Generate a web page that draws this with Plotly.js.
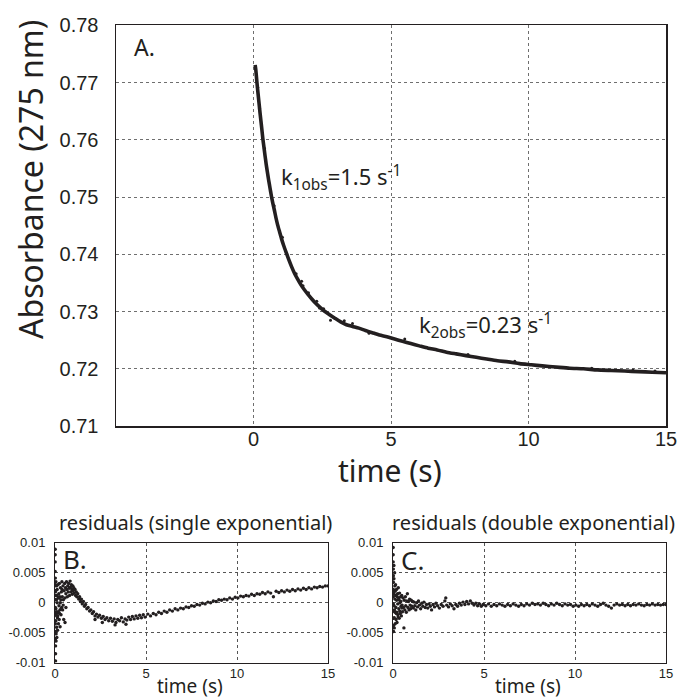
<!DOCTYPE html>
<html>
<head>
<meta charset="utf-8">
<script src="https://cdn.plot.ly/plotly-3.0.1.min.js"></script>
<style>html,body{margin:0;padding:0;background:#fff;}#chart{width:678px;height:699px;}</style>
</head>
<body>
<div id="chart"></div>
<script>
// Panel A: absorbance trace
const absTime = [0.06,0.08,0.10,0.12,0.15,0.18,0.21,0.24,0.27,0.30,0.34,0.38,0.42,0.46,0.50,0.55,0.60,0.65,0.70,0.76,0.82,0.88,0.95,1.02,1.10,1.19,1.28,1.38,1.49,1.60,1.72,1.85,1.98,2.12,2.27,2.43,2.60,2.78,2.97,3.17,3.38,3.60,3.83,4.07,4.32,4.58,4.85,5.13,5.42,5.72,6.03,6.35,6.68,7.02,7.37,7.73,8.10,8.48,8.87,9.27,9.68,10.1,10.5,11.0,11.5,12.0,12.5,13.0,13.5,14.0,14.5,15.0];
const absValue = [0.7731,0.7724,0.7714,0.7703,0.7688,0.7674,0.7660,0.7646,0.7633,0.7620,0.7602,0.7587,0.7572,0.7558,0.7545,0.7530,0.7516,0.7502,0.7490,0.7477,0.7463,0.7451,0.7439,0.7427,0.7415,0.7403,0.7391,0.7379,0.7367,0.7357,0.7347,0.7338,0.7330,0.7322,0.7314,0.7307,0.7300,0.7294,0.7288,0.7282,0.7277,0.7274,0.7271,0.7267,0.7263,0.7259,0.7256,0.7252,0.7248,0.7244,0.7240,0.7236,0.7233,0.7229,0.7226,0.7223,0.7220,0.7217,0.7214,0.7212,0.7209,0.7207,0.7205,0.7203,0.7201,0.7200,0.7198,0.7197,0.7196,0.7195,0.7194,0.7193];
const absStrayTime = [0.15,0.22,0.40,0.75,1.05,1.55,1.75,1.80,2.00,2.30,2.40,2.55,2.80,3.30,3.60,4.20,5.50,7.80,9.50,12.3,13.8,14.6];
const absStrayValue = [0.7692,0.7655,0.7585,0.7485,0.7430,0.7366,0.7353,0.7345,0.7333,0.7318,0.7306,0.7305,0.7285,0.7284,0.7279,0.7262,0.7252,0.7225,0.7213,0.7201,0.7198,0.7196];

// Panel B: residuals (single exponential)
const resBTime = [0.01,0.01,0.01,0.01,0.02,0.02,0.02,0.02,0.02,0.02,0.02,0.02,0.03,0.03,0.03,0.03,
0.05,0.05,0.05,0.05,0.06,0.06,0.08,0.08,0.09,0.09,0.10,0.12,0.12,0.13,0.14,
0.16,0.17,0.18,0.19,0.21,0.22,0.23,0.24,0.26,0.27,0.28,0.30,
0.32,0.33,0.35,0.37,0.38,0.40,0.42,0.44,0.46,0.48,
0.50,0.53,0.55,0.58,0.60,0.63,0.65,0.68,0.70,0.73,
0.75,0.78,0.80,0.83,0.85,0.88,0.90,0.93,0.95,0.98,
1.00,1.03,1.06,1.10,1.13,1.17,1.20,1.25,1.30,1.35,
1.40,1.45,1.50,1.56,1.62,1.68,1.75,1.82,1.90,1.97,
2.05,2.12,2.20,2.28,2.36,2.45,2.55,2.65,2.75,2.85,
2.95,3.05,3.15,3.25,3.35,3.45,3.55,3.65,3.75,3.85,
3.95,4.05,4.15,4.25,4.35,4.45,4.55,4.65,4.75,4.85,
4.95,5.10,5.25,5.40,5.55,5.70,5.85,6.00,6.15,6.30,
6.45,6.60,6.75,6.90,7.05,7.20,7.35,7.50,7.65,7.80,
7.95,8.10,8.25,8.40,8.55,8.70,8.85,9.00,9.15,9.30,
9.45,9.60,9.75,9.90,10.05,10.20,10.35,10.50,10.65,10.80,
10.95,11.10,11.25,11.40,11.55,11.70,11.85,12.00,12.15,12.30,
12.45,12.60,12.75,12.90,13.05,13.20,13.35,13.50,13.65,13.80,
13.95,14.10,14.25,14.40,14.55,14.70,14.85,15.00,
2.60,3.30,3.90,2.20,0.55,0.60,0.04,0.07,0.11,0.15,0.20,0.25,0.29,0.34,0.39,0.45];
const resBValue = [0.0089,0.0080,0.0068,0.0052,0.0041,0.0030,0.0018,0.0005,-0.0008,-0.0021,-0.0035,-0.0048,-0.0060,-0.0072,-0.0085,-0.0097,
0.0035,0.0012,-0.0010,-0.0030,-0.0052,-0.0064,0.0028,0.0005,-0.0018,-0.0041,-0.0058,0.0022,0.0000,-0.0025,-0.0046,
0.0030,0.0008,-0.0015,-0.0035,0.0015,-0.0005,-0.0028,0.0032,0.0010,-0.0012,-0.0040,0.0025,
0.0005,-0.0020,0.0018,-0.0008,0.0035,0.0010,-0.0012,0.0028,0.0005,-0.0028,
0.0020,0.0032,0.0008,0.0025,0.0015,0.0035,0.0022,0.0010,0.0028,0.0018,
0.0032,0.0024,0.0012,0.0036,0.0026,0.0018,0.0030,0.0022,0.0014,0.0028,
0.0020,0.0025,0.0016,0.0022,0.0012,0.0018,0.0010,0.0015,0.0006,0.0010,
0.0002,0.0006,-0.0002,0.0002,-0.0006,-0.0003,-0.0010,-0.0008,-0.0014,-0.0012,
-0.0018,-0.0015,-0.0022,-0.0019,-0.0024,-0.0021,-0.0026,-0.0023,-0.0028,-0.0025,
-0.0030,-0.0026,-0.0031,-0.0027,-0.0033,-0.0028,-0.0030,-0.0025,-0.0032,-0.0027,
-0.0029,-0.0024,-0.0028,-0.0023,-0.0027,-0.0022,-0.0026,-0.0021,-0.0025,-0.0020,
-0.0024,-0.0019,-0.0022,-0.0018,-0.0020,-0.0016,-0.0018,-0.0014,-0.0016,-0.0012,
-0.0014,-0.0010,-0.0012,-0.0009,-0.0010,-0.0007,-0.0008,-0.0005,-0.0006,-0.0003,
-0.0004,-0.0001,-0.0002,0.0001,0.0000,0.0003,0.0002,0.0005,0.0004,0.0006,
0.0005,0.0008,0.0006,0.0009,0.0008,0.0011,0.0010,0.0012,0.0011,0.0014,
0.0012,0.0015,0.0014,0.0017,0.0015,0.0018,0.0016,0.0010,0.0019,0.0017,
0.0020,0.0018,0.0021,0.0019,0.0022,0.0020,0.0023,0.0021,0.0024,0.0022,
0.0025,0.0023,0.0026,0.0025,0.0027,0.0026,0.0028,0.0028,
-0.0033,-0.0037,-0.0036,-0.0028,-0.0033,-0.0008,0.0020,-0.0015,0.0012,-0.0022,0.0008,-0.0018,0.0000,-0.0010,0.0022,-0.0004];

// Panel C: residuals (double exponential)
const resCTime = [0.01,0.01,0.01,0.02,0.02,0.02,0.02,0.02,0.02,0.03,0.03,0.03,0.03,
0.05,0.05,0.06,0.06,0.07,0.07,0.09,0.10,0.10,0.11,0.12,
0.14,0.15,0.16,0.17,0.19,0.20,0.21,0.22,0.25,0.26,0.27,0.29,
0.31,0.32,0.34,0.36,0.38,0.40,0.42,0.44,0.46,0.48,0.50,0.52,
0.55,0.58,0.60,0.62,0.65,0.68,0.70,0.73,0.76,0.79,
0.82,0.85,0.88,0.91,0.94,0.97,1.00,1.04,1.08,1.12,
1.16,1.20,1.25,1.30,1.35,1.40,1.46,1.52,1.58,1.64,
1.70,1.77,1.84,1.91,1.98,2.05,2.12,2.20,2.28,2.36,
2.45,2.55,2.65,2.75,2.85,2.90,2.95,3.05,3.15,3.25,3.35,
3.45,3.55,3.65,3.75,3.85,3.95,4.05,4.15,4.25,4.35,
4.45,4.55,4.65,4.75,4.85,4.95,5.10,5.25,5.40,5.55,
5.70,5.85,6.00,6.15,6.30,6.45,6.60,6.75,6.90,7.05,
7.20,7.35,7.50,7.65,7.80,7.95,8.10,8.25,8.40,8.55,
8.70,8.85,9.00,9.15,9.30,9.45,9.60,9.75,9.90,10.05,
10.20,10.35,10.50,10.65,10.80,10.95,11.10,11.25,11.40,11.55,
11.70,11.85,12.00,12.15,12.30,12.45,12.60,12.75,12.90,13.05,
13.20,13.35,13.50,13.65,13.80,13.95,14.10,14.25,14.40,14.55,
14.70,14.85,15.00,
0.04,0.08,0.13,0.18,0.23,0.28,0.33,0.37,0.43,0.49];
const resCValue = [0.0092,0.0080,0.0068,0.0056,0.0045,0.0034,0.0022,0.0010,-0.0002,-0.0014,-0.0026,-0.0038,-0.0048,
0.0062,0.0040,0.0018,-0.0005,-0.0025,-0.0042,0.0050,0.0028,0.0006,-0.0016,-0.0035,
0.0030,0.0012,-0.0008,-0.0028,0.0022,0.0004,-0.0016,-0.0033,0.0015,-0.0002,-0.0020,0.0025,
0.0008,-0.0010,-0.0026,0.0016,0.0000,-0.0018,0.0010,-0.0006,-0.0022,0.0012,-0.0004,-0.0015,
0.0008,-0.0008,-0.0042,0.0004,-0.0012,0.0010,-0.0005,-0.0016,0.0003,0.0015,
-0.0008,0.0002,-0.0012,0.0006,-0.0004,-0.0010,0.0004,-0.0006,0.0002,-0.0009,
0.0001,-0.0005,-0.0012,0.0000,-0.0007,0.0003,-0.0004,-0.0010,-0.0001,-0.0006,
0.0001,-0.0008,-0.0003,-0.0009,-0.0002,-0.0006,-0.0012,-0.0003,-0.0007,-0.0001,
-0.0005,-0.0009,-0.0003,-0.0006,0.0003,0.0008,-0.0004,-0.0007,-0.0002,-0.0005,-0.0010,
-0.0003,-0.0006,-0.0001,-0.0004,0.0001,-0.0003,0.0002,-0.0002,0.0003,-0.0001,
-0.0004,-0.0001,-0.0005,-0.0002,-0.0006,-0.0003,-0.0005,-0.0002,-0.0006,-0.0003,
-0.0005,-0.0002,-0.0004,-0.0006,-0.0003,-0.0005,-0.0002,-0.0004,-0.0006,-0.0003,
-0.0005,-0.0002,-0.0004,-0.0001,-0.0003,-0.0002,-0.0004,-0.0001,-0.0003,-0.0005,
-0.0002,-0.0004,-0.0001,-0.0003,-0.0005,-0.0002,-0.0004,-0.0003,-0.0006,-0.0004,
-0.0006,-0.0003,-0.0005,-0.0003,-0.0005,-0.0002,-0.0004,-0.0006,-0.0003,-0.0001,
-0.0004,-0.0006,-0.0009,-0.0004,-0.0002,-0.0004,-0.0003,-0.0005,-0.0003,-0.0005,
-0.0003,-0.0004,-0.0002,-0.0004,-0.0005,-0.0003,-0.0004,-0.0002,-0.0004,-0.0003,
-0.0004,-0.0003,-0.0003,
0.0015,-0.0012,0.0020,-0.0018,0.0010,-0.0024,0.0005,-0.0014,0.0002,-0.0009];

// Labels
const mainXTicks = [0, 5, 10, 15];
const mainYTicks = [0.71, 0.72, 0.73, 0.74, 0.75, 0.76, 0.77, 0.78];
const resYTicks = [-0.01, -0.005, 0, 0.005, 0.01];
const resYTickText = ['-0.01', '-0.005', '0', '0.005', '0.01'];
const resXTicks = [0, 5, 10, 15];

const INK = '#231f20';
const W = 678, H = 699;
const px = v => v / W;
const py = v => 1 - v / H;
const tickFont = 'Liberation Sans, Arial, sans-serif';
const titleFont = 'Noto Sans, Open Sans, sans-serif';

const traces = [
  {x: absTime, y: absValue, xaxis: 'x', yaxis: 'y', mode: 'lines', line: {color: INK, width: 3.6, shape: 'spline', smoothing: 0.6}, hoverinfo: 'skip'},
  {x: absStrayTime, y: absStrayValue, xaxis: 'x', yaxis: 'y', mode: 'markers', marker: {color: INK, size: 3}, hoverinfo: 'skip'},
  {x: resBTime, y: resBValue, xaxis: 'x2', yaxis: 'y2', mode: 'markers', marker: {color: INK, size: 3.4}, hoverinfo: 'skip'},
  {x: resCTime, y: resCValue, xaxis: 'x3', yaxis: 'y3', mode: 'markers', marker: {color: INK, size: 3.4}, hoverinfo: 'skip'}
];

const mainAxisCommon = {showline: true, mirror: true, linecolor: INK, linewidth: 1.5, ticks: '',
  showgrid: true, gridcolor: '#6f6f6f', gridwidth: 1, griddash: '3px,3px', zeroline: false,
  tickfont: {family: tickFont, size: 20, color: INK}};
const resAxisCommon = {showline: true, mirror: true, linecolor: INK, linewidth: 1, ticks: '',
  showgrid: true, gridcolor: '#555', gridwidth: 1, griddash: 'dot', zeroline: false,
  tickfont: {family: tickFont, size: 13, color: INK}};

const layout = {
  width: W, height: H, margin: {l: 0, r: 0, t: 0, b: 0},
  paper_bgcolor: '#fff', plot_bgcolor: '#fff', showlegend: false,
  xaxis: Object.assign({}, mainAxisCommon, {domain: [px(116), px(666)], range: [-5, 15], tickvals: mainXTicks, anchor: 'y', ticklabelstandoff: -6}),
  yaxis: Object.assign({}, mainAxisCommon, {domain: [py(426), py(25.4)], range: [0.71, 0.78], tickvals: mainYTicks, tickformat: '.2f', anchor: 'x', ticklabelstandoff: 12}),
  xaxis2: Object.assign({}, resAxisCommon, {domain: [px(55), px(328)], range: [0, 15], tickvals: resXTicks, anchor: 'y2', ticklabelstandoff: -1}),
  yaxis2: Object.assign({}, resAxisCommon, {domain: [py(662.7), py(542.7)], range: [-0.01, 0.01], tickvals: resYTicks, ticktext: resYTickText, anchor: 'x2', ticklabelstandoff: 6}),
  xaxis3: Object.assign({}, resAxisCommon, {domain: [px(393), px(666)], range: [0, 15], tickvals: resXTicks, anchor: 'y3', ticklabelstandoff: -1}),
  yaxis3: Object.assign({}, resAxisCommon, {domain: [py(662.7), py(542.7)], range: [-0.01, 0.01], tickvals: resYTicks, ticktext: resYTickText, anchor: 'x3', ticklabelstandoff: 6}),
  annotations: [
    {text: 'Absorbance (275 nm)', textangle: -90, xref: 'paper', yref: 'paper', x: px(30), y: py(180), xanchor: 'center', yanchor: 'middle', showarrow: false, font: {family: titleFont, size: 32, color: INK}},
    {text: 'time (s)', xref: 'paper', yref: 'paper', x: px(390), y: py(470), xanchor: 'center', yanchor: 'middle', showarrow: false, font: {family: titleFont, size: 30, color: INK}},
    {text: 'A.', xref: 'paper', yref: 'paper', x: px(132), y: py(47), xanchor: 'left', yanchor: 'middle', showarrow: false, font: {family: titleFont, size: 23, color: INK}},
    {text: 'k<sub>1obs</sub>=1.5 s<sup>-1</sup>', xref: 'paper', yref: 'paper', x: px(279), y: py(178), xanchor: 'left', yanchor: 'middle', showarrow: false, font: {family: titleFont, size: 22, color: INK}},
    {text: 'k<sub>2obs</sub>=0.23 s<sup>-1</sup>', xref: 'paper', yref: 'paper', x: px(417), y: py(326), xanchor: 'left', yanchor: 'middle', showarrow: false, font: {family: titleFont, size: 22, color: INK}},
    {text: 'residuals (single exponential)', xref: 'paper', yref: 'paper', x: px(195), y: py(522), xanchor: 'center', yanchor: 'middle', showarrow: false, font: {family: titleFont, size: 20, color: INK}},
    {text: 'residuals (double exponential)', xref: 'paper', yref: 'paper', x: px(533), y: py(522), xanchor: 'center', yanchor: 'middle', showarrow: false, font: {family: titleFont, size: 20, color: INK}},
    {text: 'time (s)', xref: 'paper', yref: 'paper', x: px(190), y: py(686), xanchor: 'center', yanchor: 'middle', showarrow: false, font: {family: titleFont, size: 19, color: INK}},
    {text: 'time (s)', xref: 'paper', yref: 'paper', x: px(528), y: py(686), xanchor: 'center', yanchor: 'middle', showarrow: false, font: {family: titleFont, size: 19, color: INK}},
    {text: 'B.', xref: 'paper', yref: 'paper', x: px(61), y: py(559), xanchor: 'left', yanchor: 'middle', showarrow: false, font: {family: titleFont, size: 26, color: INK}},
    {text: 'C.', xref: 'paper', yref: 'paper', x: px(399), y: py(560), xanchor: 'left', yanchor: 'middle', showarrow: false, font: {family: titleFont, size: 26, color: INK}}
  ]
};

Plotly.newPlot('chart', traces, layout, {staticPlot: true, displayModeBar: false});
</script>
</body>
</html>
